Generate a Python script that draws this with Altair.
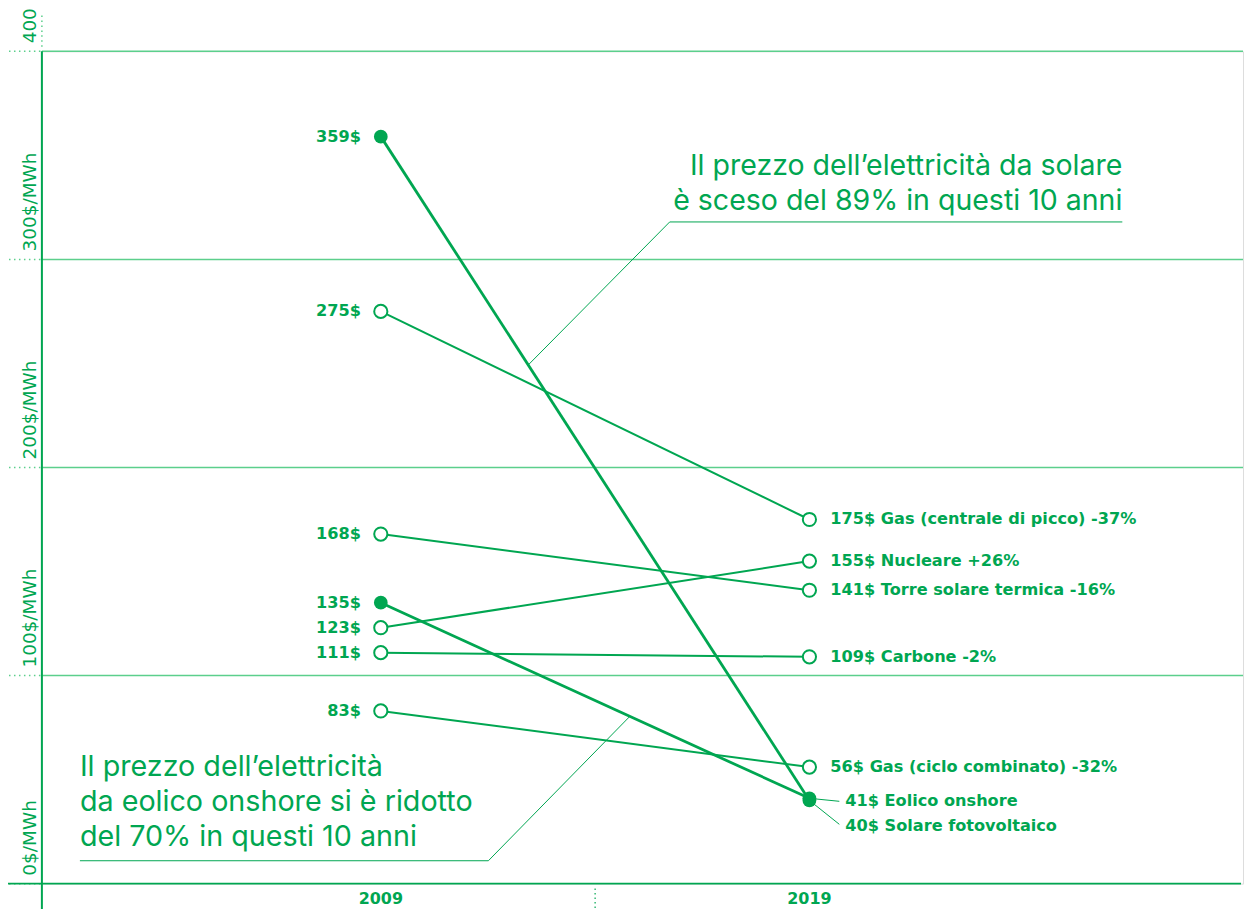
import altair as alt
import pandas as pd

GREEN = "#00a651"
GRID = "#5ccf8c"
FONT = "Inter"
LBL_FONT = "DejaVu Sans"

# ---- data -------------------------------------------------------------
sources = ["Solare fotovoltaico", "Gas (centrale di picco)", "Torre solare termica",
           "Eolico onshore", "Nucleare", "Carbone", "Gas (ciclo combinato)"]
v2009 = [359, 275, 168, 135, 123, 111, 83]
v2019 = [40, 175, 141, 41, 155, 109, 56]
changes = ["-89%", "-37%", "-16%", "-70%", "+26%", "-2%", "-32%"]
highlight = [True, False, False, True, False, False, False]
years = [2009, 2019]
y_ticks = [0, 100, 200, 300, 400]
y_tick_labels = ["0$/MWh", "100$/MWh", "200$/MWh", "300$/MWh", "400"]

ann_solar = ["Il prezzo dell\u2019elettricità da solare", "è sceso del 89% in questi 10 anni"]
ann_wind = ["Il prezzo dell\u2019elettricità", "da eolico onshore si è ridotto", "del 70% in questi 10 anni"]

# ---- layout -----------------------------------------------------------
W, H = 1205, 835
x_scale = alt.Scale(domain=[2001.093, 2029.116])
y_scale = alt.Scale(domain=[0, 400])

rows = []
for s, a, b, c, h in zip(sources, v2009, v2019, changes, highlight):
    rows.append({"source": s, "year": years[0], "value": a, "hl": h,
                 "label": f"{a}$"})
    rows.append({"source": s, "year": years[1], "value": b, "hl": h,
                 "label": f"{b}$ {s}" if h else f"{b}$ {s} {c}"})
df = pd.DataFrame(rows)

X = alt.X("year:Q", scale=x_scale, axis=None)
Y = alt.Y("value:Q", scale=y_scale, axis=None)

grid_df = pd.DataFrame({"value": y_ticks, "label": y_tick_labels})
one = pd.DataFrame({"a": [0]})
base = alt.Chart(df)

gridlines = alt.Chart(grid_df).transform_filter("datum.value > 0").mark_rule(
    color=GRID, strokeWidth=1.5).encode(y=Y, x=alt.value(0), x2=alt.value(W))
tickdots = alt.Chart(grid_df).mark_rule(
    color=GRID, strokeWidth=1.5, strokeDash=[1.5, 3.5]).encode(
    y=Y, x=alt.value(-33), x2=alt.value(-1))
topdots = alt.Chart(one).mark_rule(
    color=GRID, strokeWidth=1.5, strokeDash=[1.5, 3.5]).encode(
    x=alt.value(0), y=alt.value(-36), y2=alt.value(-3))
yaxis_line = alt.Chart(one).mark_rule(color=GREEN, strokeWidth=2).encode(
    x=alt.value(0), y=alt.value(0), y2=alt.value(H + 30))
xaxis_line = alt.Chart(one).mark_rule(color=GREEN, strokeWidth=2).encode(
    y=alt.value(H), x=alt.value(-34), x2=alt.value(W - 2))
divider = alt.Chart(pd.DataFrame({"year": [(years[0] + years[1]) / 2]})).mark_rule(
    color=GREEN, strokeWidth=1.2, strokeDash=[1.5, 3]).encode(
    x=X, y=alt.value(H + 5), y2=alt.value(H + 28))

xlabels = alt.Chart(pd.DataFrame({"year": years})).mark_text(
    font=LBL_FONT, fontSize=16, fontWeight=700, color=GREEN, baseline="middle").encode(
    x=X, y=alt.value(H + 15), text=alt.Text("year:Q", format="d"))

ylabels = alt.Chart(grid_df).mark_text(
    font=LBL_FONT, fontSize=18.5, fontWeight=400, color=GREEN, angle=270,
    align="left", baseline="alphabetic", dx=8).encode(
    y=Y, x=alt.value(-6), text="label:N")

# annotation leader lines (attached to the slope lines at a fraction t)
def on_line(idx, t):
    return years[0] + (years[1] - years[0]) * t, v2009[idx] + (v2019[idx] - v2009[idx]) * t

sx, sy = on_line(0, 0.344)
wx, wy = on_line(3, 0.581)
lead_solar = alt.Chart(pd.DataFrame({
    "year": [2026.3, 2015.74, sx], "value": [318, 318, sy], "o": [0, 1, 2]})).mark_line(
    color=GREEN, strokeWidth=1).encode(x=X, y=Y, order="o:Q")
lead_wind = alt.Chart(pd.DataFrame({
    "year": [2001.98, 2011.51, wx], "value": [11, 11, wy], "o": [0, 1, 2]})).mark_line(
    color=GREEN, strokeWidth=1).encode(x=X, y=Y, order="o:Q")

thin = base.transform_filter("!datum.hl").mark_line(color=GREEN, strokeWidth=2).encode(
    x=X, y=Y, detail="source:N")
thick = base.transform_filter("datum.hl").mark_line(color=GREEN, strokeWidth=2.8).encode(
    x=X, y=Y, detail="source:N")

end_df = df[(df.year == years[1]) & (df.hl)]
lead_wind_lbl = alt.Chart(end_df[end_df.source == "Eolico onshore"]).mark_rule(
    color=GREEN, strokeWidth=1, x2Offset=30, y2Offset=3).encode(
    x=X, x2="year:Q", y=Y, y2="value:Q")
lead_pv_lbl = alt.Chart(end_df[end_df.source == "Solare fotovoltaico"]).mark_rule(
    color=GREEN, strokeWidth=1, x2Offset=30, y2Offset=24).encode(
    x=X, x2="year:Q", y=Y, y2="value:Q")

open_pts = base.transform_filter("!datum.hl").mark_circle(
    fill="white", stroke=GREEN, strokeWidth=2, size=175, opacity=1).encode(x=X, y=Y)
full_pts = base.transform_filter("datum.hl").mark_circle(
    color=GREEN, size=190, opacity=1).encode(x=X, y=Y)

lbl_style = dict(font=LBL_FONT, fontSize=16.2, fontWeight=700, color=GREEN, baseline="middle")
left_lbl = base.transform_filter(f"datum.year == {years[0]}").mark_text(
    align="right", dx=-20, **lbl_style).encode(x=X, y=Y, text="label:N")
right_lbl = base.transform_filter(f"datum.year == {years[1]} && !datum.hl").mark_text(
    align="left", dx=21, **lbl_style).encode(x=X, y=Y, text="label:N")
right_wind = alt.Chart(end_df[end_df.source == "Eolico onshore"]).mark_text(
    align="left", dx=36, dy=3, **lbl_style).encode(x=X, y=Y, text="label:N")
right_pv = alt.Chart(end_df[end_df.source == "Solare fotovoltaico"]).mark_text(
    align="left", dx=36, dy=26, **lbl_style).encode(x=X, y=Y, text="label:N")

ann_style = dict(font=FONT, fontWeight=400, color=GREEN,
                 baseline="alphabetic", lineHeight=35)
ann1 = alt.Chart(one).mark_text(text=ann_solar, align="right", fontSize=28.6, **ann_style).encode(
    x=alt.datum(2026.3, scale=x_scale), y=alt.datum(340.6, scale=y_scale))
ann2 = alt.Chart(one).mark_text(text=ann_wind, align="left", fontSize=28.8, **ann_style).encode(
    x=alt.datum(2001.98, scale=x_scale), y=alt.datum(51.7, scale=y_scale))

chart = alt.layer(
    gridlines, tickdots, topdots, yaxis_line, xaxis_line, divider, xlabels, ylabels,
    lead_solar, lead_wind, thin, thick, lead_wind_lbl, lead_pv_lbl,
    open_pts, full_pts, left_lbl, right_lbl, right_wind, right_pv, ann1, ann2,
).properties(
    width=W, height=H,
    autosize=alt.AutoSizeParams(type="none"),
    padding={"left": 34, "top": 42, "right": 4, "bottom": 24},
).configure_view(stroke=None).configure(background="white")

chart.save("out.html", embed_options={"renderer": "svg", "actions": False})
